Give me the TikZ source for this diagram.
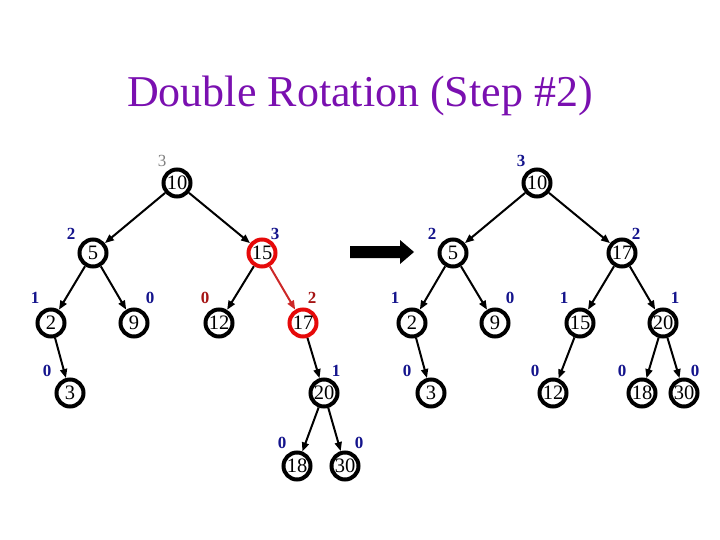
\documentclass[tikz,border=0pt]{standalone}
\usepackage{fontspec}
\setmainfont{Liberation Serif}
\usetikzlibrary{arrows.meta}
\definecolor{titlepurple}{RGB}{122,16,176}
\definecolor{lblblue}{RGB}{20,20,140}
\definecolor{lblred}{RGB}{165,20,20}
\definecolor{lblgray}{RGB}{128,128,128}
\definecolor{hotred}{RGB}{230,10,10}
\definecolor{edgered}{RGB}{205,40,40}
\tikzset{
  tnode/.style={circle,draw=black,line width=4pt,minimum size=27pt,inner sep=0pt,
    font=\fontsize{20.5}{20.5}\selectfont,fill=white},
  rnode/.style={tnode,draw=hotred},
  edge/.style={line width=2pt,-{Triangle[length=9pt,width=7pt]}},
  redge/.style={edge,draw=edgered},
  lbl/.style={font=\fontsize{17}{17}\selectfont\bfseries,text=lblblue,inner sep=0pt},
  rlbl/.style={lbl,text=lblred},
  glbl/.style={lbl,font=\fontsize{17}{17}\selectfont,text=lblgray},
}
\begin{document}
\begin{tikzpicture}[x=1pt,y=-1pt]
\useasboundingbox (0,0) rectangle (720,540);
\node[anchor=base,text=titlepurple,font=\fontsize{44}{44}\selectfont] (title) at (360,107) {Double Rotation (Step \#2)};
% left tree
\node[tnode] (a10) at (177,183) {10};
\node[tnode] (a5) at (93,253) {5};
\node[rnode] (a15) at (262,253) {15};
\node[tnode] (a2) at (51,323) {2};
\node[tnode] (a9) at (134,323) {9};
\node[tnode] (a12) at (219,323) {12};
\node[rnode] (a17) at (303,323) {17};
\node[tnode] (a3) at (70,393) {3};
\node[tnode] (a20) at (324,393) {20};
\node[tnode] (a18) at (297,466) {18};
\node[tnode] (a30) at (345,466) {30};
\draw[edge] (a10) -- (a5);
\draw[edge] (a10) -- (a15);
\draw[edge] (a5) -- (a2);
\draw[edge] (a5) -- (a9);
\draw[edge] (a15) -- (a12);
\draw[redge] (a15) -- (a17);
\draw[edge] (a2) -- (a3);
\draw[edge] (a17) -- (a20);
\draw[edge] (a20) -- (a18);
\draw[edge] (a20) -- (a30);
\node[glbl] (la10) at (162,161) {3};
\node[lbl] (la5) at (71,234) {2};
\node[lbl] (la15) at (275,234) {3};
\node[lbl] (la2) at (35,298) {1};
\node[lbl] (la9) at (150,298) {0};
\node[rlbl] (la12) at (205,298) {0};
\node[rlbl] (la17) at (312,298) {2};
\node[lbl] (la3) at (47,371) {0};
\node[lbl] (la20) at (336,371) {1};
\node[lbl] (la18) at (282,443) {0};
\node[lbl] (la30) at (359,443) {0};
% arrow
\fill[black] (350,246) -- (400,246) -- (400,240) -- (414,252) -- (400,264) -- (400,258) -- (350,258) -- cycle;
% right tree
\node[tnode] (b10) at (537,183) {10};
\node[tnode] (b5) at (453,253) {5};
\node[tnode] (b17) at (622,253) {17};
\node[tnode] (b2) at (412,323) {2};
\node[tnode] (b9) at (495,323) {9};
\node[tnode] (b15) at (580,323) {15};
\node[tnode] (b20) at (663,323) {20};
\node[tnode] (b3) at (431,393) {3};
\node[tnode] (b12) at (553,393) {12};
\node[tnode] (b18) at (642,393) {18};
\node[tnode] (b30) at (684,393) {30};
\draw[edge] (b10) -- (b5);
\draw[edge] (b10) -- (b17);
\draw[edge] (b5) -- (b2);
\draw[edge] (b5) -- (b9);
\draw[edge] (b17) -- (b15);
\draw[edge] (b17) -- (b20);
\draw[edge] (b2) -- (b3);
\draw[edge] (b15) -- (b12);
\draw[edge] (b20) -- (b18);
\draw[edge] (b20) -- (b30);
\node[lbl] (lb10) at (521,161) {3};
\node[lbl] (lb5) at (432,234) {2};
\node[lbl] (lb17) at (636,234) {2};
\node[lbl] (lb2) at (395,298) {1};
\node[lbl] (lb9) at (510,298) {0};
\node[lbl] (lb15) at (564,298) {1};
\node[lbl] (lb20) at (675,298) {1};
\node[lbl] (lb3) at (407,371) {0};
\node[lbl] (lb12) at (535,371) {0};
\node[lbl] (lb18) at (622,371) {0};
\node[lbl] (lb30) at (695,371) {0};
\end{tikzpicture}
\end{document}
